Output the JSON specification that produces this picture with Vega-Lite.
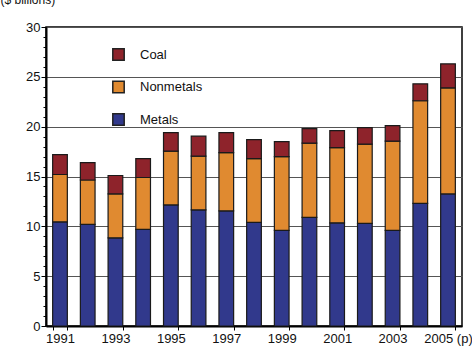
{
  "$schema": "https://vega.github.io/schema/vega-lite/v6.json",
  "width": 416,
  "height": 299,
  "autosize": "none",
  "padding": {"left": 46, "top": 27, "right": 10, "bottom": 21},
  "background": "white",
  "config": {
    "font": "Liberation Sans",
    "view": {"stroke": "black", "strokeWidth": 1.5},
    "axis": {"labelFont": "Liberation Sans", "labelFontSize": 13, "labelColor": "#111", "titleFont": "Liberation Sans"}
  },
  "data": {
    "values": [
      {"year": "1991", "type": "Metals", "value": 10.45}, {"year": "1991", "type": "Nonmetals", "value": 4.75}, {"year": "1991", "type": "Coal", "value": 2.0},
      {"year": "1992", "type": "Metals", "value": 10.2}, {"year": "1992", "type": "Nonmetals", "value": 4.45}, {"year": "1992", "type": "Coal", "value": 1.75},
      {"year": "1993", "type": "Metals", "value": 8.85}, {"year": "1993", "type": "Nonmetals", "value": 4.4}, {"year": "1993", "type": "Coal", "value": 1.85},
      {"year": "1994", "type": "Metals", "value": 9.7}, {"year": "1994", "type": "Nonmetals", "value": 5.2}, {"year": "1994", "type": "Coal", "value": 1.9},
      {"year": "1995", "type": "Metals", "value": 12.15}, {"year": "1995", "type": "Nonmetals", "value": 5.4}, {"year": "1995", "type": "Coal", "value": 1.85},
      {"year": "1996", "type": "Metals", "value": 11.65}, {"year": "1996", "type": "Nonmetals", "value": 5.4}, {"year": "1996", "type": "Coal", "value": 2.0},
      {"year": "1997", "type": "Metals", "value": 11.55}, {"year": "1997", "type": "Nonmetals", "value": 5.85}, {"year": "1997", "type": "Coal", "value": 2.0},
      {"year": "1998", "type": "Metals", "value": 10.4}, {"year": "1998", "type": "Nonmetals", "value": 6.4}, {"year": "1998", "type": "Coal", "value": 1.9},
      {"year": "1999", "type": "Metals", "value": 9.6}, {"year": "1999", "type": "Nonmetals", "value": 7.4}, {"year": "1999", "type": "Coal", "value": 1.5},
      {"year": "2000", "type": "Metals", "value": 10.9}, {"year": "2000", "type": "Nonmetals", "value": 7.45}, {"year": "2000", "type": "Coal", "value": 1.45},
      {"year": "2001", "type": "Metals", "value": 10.35}, {"year": "2001", "type": "Nonmetals", "value": 7.55}, {"year": "2001", "type": "Coal", "value": 1.7},
      {"year": "2002", "type": "Metals", "value": 10.3}, {"year": "2002", "type": "Nonmetals", "value": 7.95}, {"year": "2002", "type": "Coal", "value": 1.65},
      {"year": "2003", "type": "Metals", "value": 9.6}, {"year": "2003", "type": "Nonmetals", "value": 8.95}, {"year": "2003", "type": "Coal", "value": 1.55},
      {"year": "2004", "type": "Metals", "value": 12.3}, {"year": "2004", "type": "Nonmetals", "value": 10.3}, {"year": "2004", "type": "Coal", "value": 1.7},
      {"year": "2005 (p)", "type": "Metals", "value": 13.25}, {"year": "2005 (p)", "type": "Nonmetals", "value": 10.65}, {"year": "2005 (p)", "type": "Coal", "value": 2.4}
    ]
  },
  "transform": [
    {"calculate": "indexof(['Metals','Nonmetals','Coal'], datum.type)", "as": "stackOrder"}
  ],
  "mark": {"type": "bar", "stroke": "#1a1a1a", "strokeWidth": 1.2},
  "encoding": {
    "x": {
      "field": "year",
      "type": "ordinal",
      "scale": {"paddingInner": 0.47, "paddingOuter": 0.24},
      "axis": {
        "title": null,
        "labelAngle": 0,
        "values": ["1991", "1993", "1995", "1997", "1999", "2001", "2003", "2005 (p)"],
        "tickBand": "extent",
        "domainColor": "black",
        "domainWidth": 2,
        "tickColor": "black",
        "tickSize": 4,
        "labelPadding": 2
      }
    },
    "y": {
      "field": "value",
      "type": "quantitative",
      "aggregate": "sum",
      "stack": "zero",
      "scale": {"domain": [0, 30], "nice": false},
      "axis": {
        "title": "($ billions)",
        "titleAngle": 0,
        "titleAlign": "left",
        "titleBaseline": "alphabetic",
        "titleX": -46,
        "titleY": -24,
        "titleFontSize": 12,
        "titleFontWeight": "normal",
        "titleColor": "#111",
        "values": [0,1,2,3,4,5,6,7,8,9,10,11,12,13,14,15,16,17,18,19,20,21,22,23,24,25,26,27,28,29,30],
        "labelExpr": "datum.value % 5 === 0 ? datum.value : ''",
        "domainColor": "black",
        "domainWidth": 2,
        "tickColor": "black",
        "tickSize": {"condition": {"test": "datum.value % 5 === 0", "value": 5}, "value": 3},
        "labelPadding": 1,
        "grid": true,
        "gridColor": {"condition": {"test": "datum.value % 5 === 0", "value": "#555"}, "value": "transparent"},
        "gridWidth": 1.2
      }
    },
    "color": {
      "field": "type",
      "type": "nominal",
      "scale": {"domain": ["Coal", "Nonmetals", "Metals"], "range": ["#8e232b", "#e08a30", "#31398c"]},
      "legend": {
        "title": null,
        "orient": "none",
        "legendX": 66,
        "legendY": 21,
        "symbolType": "square",
        "symbolSize": 130,
        "symbolStrokeColor": "#222",
        "symbolStrokeWidth": 1.5,
        "labelFontSize": 13,
        "labelFont": "Liberation Sans",
        "labelColor": "#111",
        "labelOffset": 15,
        "rowPadding": 13.5
      }
    },
    "order": {"field": "stackOrder", "type": "quantitative"}
  }
}
